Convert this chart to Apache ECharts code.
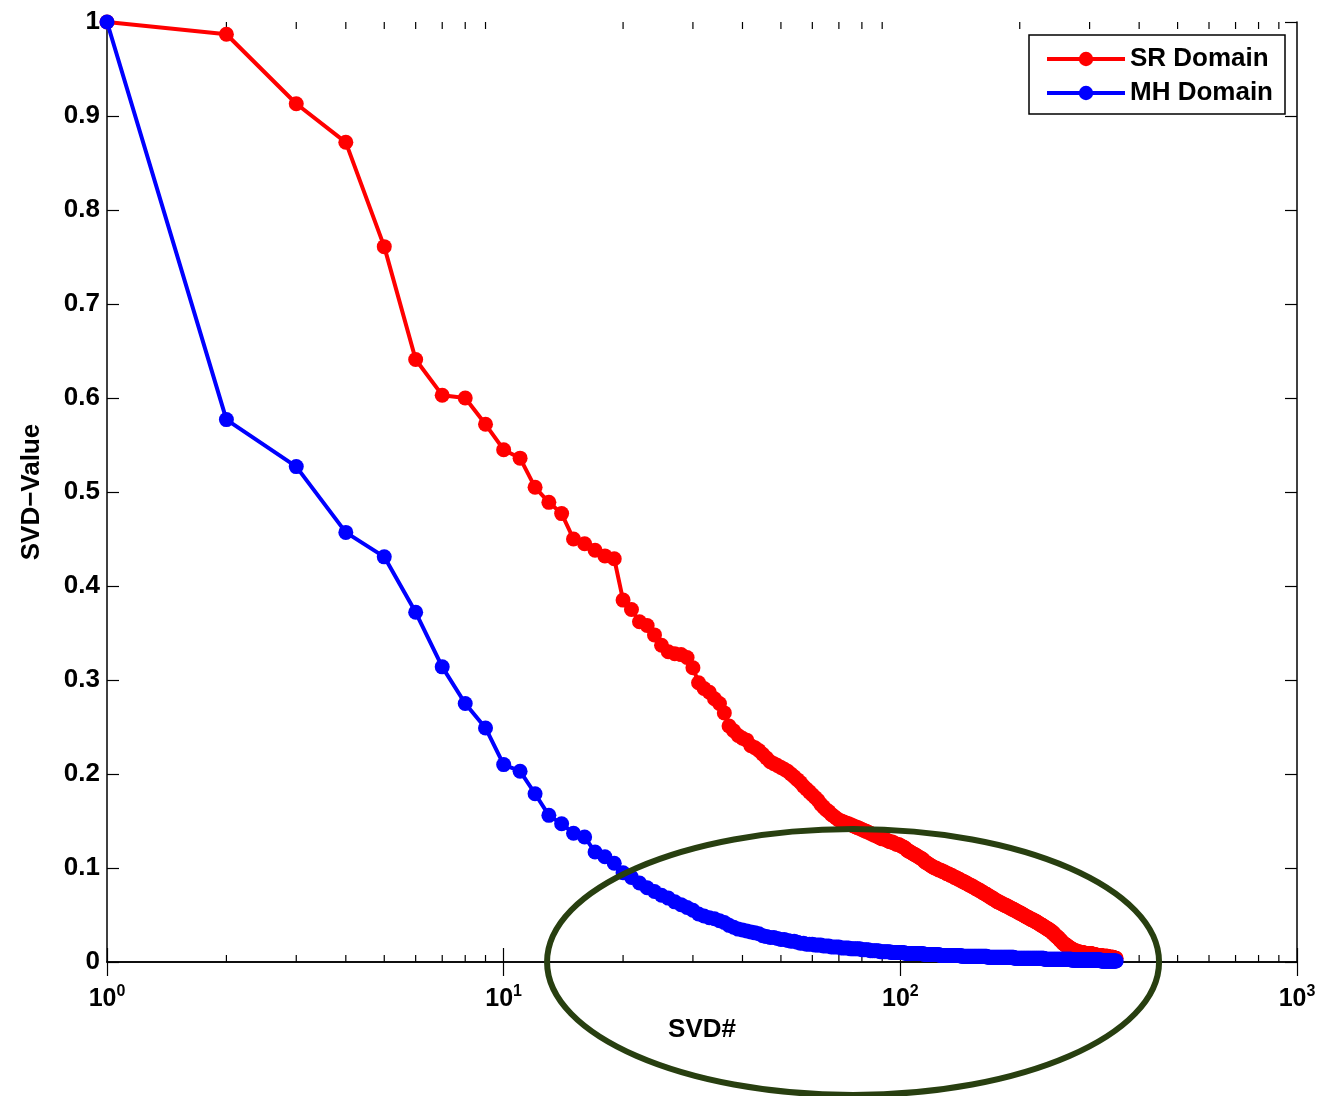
<!DOCTYPE html>
<html>
<head>
<meta charset="utf-8">
<script src="https://cdn.jsdelivr.net/npm/echarts@6/dist/echarts.min.js"></script>
<style>
  html, body { margin: 0; padding: 0; background: #ffffff; }
  #chart { width: 1337px; height: 1096px; }
</style>
</head>
<body>
<div id="chart"></div>
<script>
// Normalised singular values, index 1..350 (SVD#), for the two domains.
const srDomain = [
  1.000,0.987,0.913,0.872,0.761,0.641,0.603,0.600,0.572,0.545,
  0.536,0.505,0.489,0.477,0.450,0.445,0.438,0.432,0.429,0.385,
  0.375,0.362,0.358,0.348,0.337,0.330,0.328,0.327,0.324,0.313,
  0.297,0.291,0.287,0.280,0.275,0.265,0.251,0.246,0.241,0.238,
  0.236,0.230,0.228,0.225,0.221,0.217,0.213,0.211,0.209,0.207,
  0.205,0.203,0.200,0.197,0.194,0.191,0.187,0.184,0.181,0.178,
  0.175,0.172,0.168,0.165,0.162,0.160,0.157,0.155,0.153,0.151,
  0.150,0.149,0.148,0.147,0.146,0.145,0.144,0.143,0.142,0.141,
  0.140,0.139,0.138,0.137,0.136,0.135,0.134,0.133,0.132,0.131,
  0.131,0.130,0.129,0.128,0.128,0.127,0.126,0.125,0.125,0.124,
  0.123,0.122,0.121,0.119,0.118,0.117,0.116,0.115,0.114,0.113,
  0.112,0.111,0.110,0.109,0.107,0.106,0.105,0.104,0.103,0.102,
  0.101,0.100,0.100,0.099,0.098,0.098,0.097,0.096,0.096,0.095,
  0.094,0.094,0.093,0.092,0.092,0.091,0.090,0.090,0.089,0.088,
  0.088,0.087,0.086,0.086,0.085,0.084,0.084,0.083,0.082,0.082,
  0.081,0.080,0.080,0.079,0.078,0.078,0.077,0.076,0.076,0.075,
  0.074,0.074,0.073,0.072,0.072,0.071,0.070,0.070,0.069,0.068,
  0.068,0.067,0.066,0.066,0.065,0.064,0.064,0.063,0.063,0.062,
  0.062,0.061,0.061,0.060,0.060,0.059,0.059,0.058,0.058,0.057,
  0.057,0.056,0.056,0.055,0.055,0.054,0.054,0.053,0.053,0.052,
  0.052,0.051,0.051,0.050,0.050,0.049,0.049,0.048,0.048,0.047,
  0.047,0.046,0.046,0.045,0.045,0.045,0.044,0.044,0.043,0.043,
  0.042,0.042,0.041,0.041,0.040,0.040,0.039,0.039,0.038,0.038,
  0.037,0.037,0.036,0.036,0.035,0.035,0.034,0.034,0.033,0.033,
  0.032,0.031,0.031,0.030,0.029,0.028,0.028,0.027,0.026,0.026,
  0.025,0.024,0.023,0.023,0.022,0.021,0.020,0.020,0.019,0.019,
  0.018,0.018,0.017,0.017,0.016,0.016,0.015,0.015,0.014,0.014,
  0.013,0.013,0.013,0.012,0.012,0.012,0.012,0.011,0.011,0.011,
  0.011,0.011,0.010,0.010,0.010,0.010,0.010,0.010,0.010,0.009,
  0.009,0.009,0.009,0.009,0.009,0.009,0.009,0.009,0.009,0.009,
  0.009,0.009,0.009,0.008,0.008,0.008,0.008,0.008,0.008,0.008,
  0.007,0.007,0.007,0.007,0.007,0.007,0.007,0.007,0.007,0.007,
  0.007,0.006,0.006,0.006,0.006,0.006,0.006,0.006,0.006,0.006,
  0.006,0.006,0.006,0.005,0.005,0.005,0.005,0.005,0.005,0.005,
  0.005,0.005,0.005,0.005,0.004,0.004,0.004,0.004,0.004,0.004
];

const mhDomain = [
  1.000,0.577,0.527,0.457,0.431,0.372,0.314,0.275,0.249,0.210,
  0.203,0.179,0.156,0.147,0.137,0.133,0.117,0.112,0.105,0.095,
  0.090,0.084,0.079,0.075,0.071,0.068,0.064,0.061,0.058,0.055,
  0.051,0.049,0.047,0.046,0.044,0.042,0.039,0.037,0.035,0.034,
  0.033,0.032,0.031,0.030,0.028,0.027,0.026,0.026,0.025,0.024,
  0.024,0.023,0.022,0.022,0.021,0.020,0.020,0.019,0.019,0.019,
  0.018,0.018,0.018,0.017,0.017,0.017,0.016,0.016,0.016,0.016,
  0.015,0.015,0.015,0.015,0.014,0.014,0.014,0.014,0.014,0.013,
  0.013,0.013,0.013,0.012,0.012,0.012,0.012,0.012,0.011,0.011,
  0.011,0.011,0.011,0.011,0.010,0.010,0.010,0.010,0.010,0.010,
  0.010,0.010,0.009,0.009,0.009,0.009,0.009,0.009,0.009,0.009,
  0.009,0.009,0.009,0.009,0.008,0.008,0.008,0.008,0.008,0.008,
  0.008,0.008,0.008,0.008,0.008,0.007,0.007,0.007,0.007,0.007,
  0.007,0.007,0.007,0.007,0.007,0.007,0.007,0.007,0.007,0.007,
  0.007,0.007,0.006,0.006,0.006,0.006,0.006,0.006,0.006,0.006,
  0.006,0.006,0.006,0.006,0.006,0.006,0.006,0.006,0.006,0.006,
  0.006,0.006,0.006,0.006,0.006,0.005,0.005,0.005,0.005,0.005,
  0.005,0.005,0.005,0.005,0.005,0.005,0.005,0.005,0.005,0.005,
  0.005,0.005,0.005,0.005,0.005,0.005,0.005,0.005,0.005,0.005,
  0.005,0.005,0.005,0.004,0.004,0.004,0.004,0.004,0.004,0.004,
  0.004,0.004,0.004,0.004,0.004,0.004,0.004,0.004,0.004,0.004,
  0.004,0.004,0.004,0.004,0.004,0.004,0.004,0.004,0.004,0.004,
  0.004,0.004,0.004,0.004,0.004,0.004,0.004,0.004,0.004,0.004,
  0.003,0.003,0.003,0.003,0.003,0.003,0.003,0.003,0.003,0.003,
  0.003,0.003,0.003,0.003,0.003,0.003,0.003,0.003,0.003,0.003,
  0.003,0.003,0.003,0.003,0.003,0.003,0.003,0.003,0.003,0.003,
  0.003,0.003,0.003,0.003,0.003,0.003,0.003,0.003,0.003,0.003,
  0.002,0.002,0.002,0.002,0.002,0.002,0.002,0.002,0.002,0.002,
  0.002,0.002,0.002,0.002,0.002,0.002,0.002,0.002,0.002,0.002,
  0.002,0.002,0.002,0.002,0.002,0.002,0.002,0.002,0.002,0.002,
  0.002,0.002,0.002,0.002,0.002,0.002,0.002,0.002,0.002,0.002,
  0.002,0.002,0.002,0.002,0.002,0.002,0.002,0.002,0.002,0.002,
  0.001,0.001,0.001,0.001,0.001,0.001,0.001,0.001,0.001,0.001,
  0.001,0.001,0.001,0.001,0.001,0.001,0.001,0.001,0.001,0.001,
  0.001,0.001,0.001,0.001,0.001,0.001,0.001,0.001,0.001,0.001
];

const seriesNames = ['SR Domain', 'MH Domain'];
const xTickExponents = [0, 1, 2, 3];
const xMinorTicks = [2,3,4,5,6,7,8,9, 20,30,40,50,60,70,80,90, 200,300,400,500,600,700,800,900];
const yTickValues = [0, 0.1, 0.2, 0.3, 0.4, 0.5, 0.6, 0.7, 0.8, 0.9, 1];

const FONT = '"Liberation Sans", Arial, Helvetica, sans-serif';

function toPoints(values) {
  return values.map((v, i) => [i + 1, v]);
}

const chart = echarts.init(document.getElementById('chart'), null, { renderer: 'canvas' });

const tickLabelStyle = { color: '#000', fontFamily: FONT, fontWeight: 'bold', fontSize: 26 };

const option = {
  animation: false,
  backgroundColor: '#ffffff',
  grid: { left: 107, right: 40, top: 22, bottom: 134, containLabel: false },
  legend: {
    orient: 'vertical',
    right: 52,
    top: 35,
    data: seriesNames,
    backgroundColor: '#ffffff',
    borderColor: '#000000',
    borderWidth: 1.5,
    borderRadius: 0,
    padding: [11, 12, 8, 16],
    itemWidth: 78,
    itemHeight: 18,
    itemGap: 8,
    lineStyle: { width: 4 },
    textStyle: { color: '#000', fontFamily: FONT, fontWeight: 'bold', fontSize: 26 }
  },
  xAxis: [
    {
      type: 'log',
      logBase: 10,
      min: 1,
      max: 1000,
      name: 'SVD#',
      nameLocation: 'middle',
      nameGap: 50,
      nameTextStyle: { color: '#000', fontFamily: FONT, fontWeight: 'bold', fontSize: 26 },
      axisLine: { lineStyle: { color: '#000', width: 1.5 } },
      axisTick: { inside: true, length: 14, lineStyle: { color: '#000', width: 1.2 } },
      splitLine: { show: false },
      minorTick: { show: false },
      axisLabel: {
        margin: 22,
        formatter: function (v) {
          const e = Math.round(Math.log10(v));
          if (xTickExponents.indexOf(e) < 0) return '';
          return '{b|10}{s|' + e + '}';
        },
        rich: {
          b: { color: '#000', fontFamily: FONT, fontWeight: 'bold', fontSize: 25 },
          s: { color: '#000', fontFamily: FONT, fontWeight: 'bold', fontSize: 16, verticalAlign: 'top', padding: [0, 0, 14, 0] }
        }
      }
    },
    {
      type: 'log',
      logBase: 10,
      min: 1,
      max: 1000,
      position: 'top',
      axisLine: { lineStyle: { color: '#000', width: 1.5 } },
      axisTick: { inside: true, length: 14, lineStyle: { color: '#000', width: 1.2 } },
      axisLabel: { show: false },
      splitLine: { show: false }
    }
  ],
  yAxis: [
    {
      type: 'value',
      min: 0,
      max: 1,
      interval: 0.1,
      name: 'SVD\u2212Value',
      nameLocation: 'middle',
      nameGap: 62,
      nameRotate: 90,
      nameTextStyle: { color: '#000', fontFamily: FONT, fontWeight: 'bold', fontSize: 26 },
      axisLine: { show: true, lineStyle: { color: '#000', width: 1.5 } },
      axisTick: { show: true, inside: true, length: 12, lineStyle: { color: '#000', width: 1.2 } },
      splitLine: { show: false },
      axisLabel: Object.assign({
        margin: 7,
        formatter: function (v) {
          const t = yTickValues.find(k => Math.abs(k - v) < 1e-9);
          return t === undefined ? '' : String(+t.toFixed(1));
        }
      }, tickLabelStyle)
    },
    {
      type: 'value',
      min: 0,
      max: 1,
      interval: 0.1,
      position: 'right',
      axisLine: { show: true, lineStyle: { color: '#000', width: 1.5 } },
      axisTick: { show: true, inside: true, length: 12, lineStyle: { color: '#000', width: 1.2 } },
      axisLabel: { show: false },
      splitLine: { show: false }
    }
  ],
  series: [
    {
      name: seriesNames[0],
      type: 'line',
      xAxisIndex: 0,
      yAxisIndex: 0,
      data: toPoints(srDomain),
      symbol: 'circle',
      symbolSize: 15,
      showAllSymbol: true,
      itemStyle: { color: '#ff0000' },
      lineStyle: { color: '#ff0000', width: 4 },
      z: 3
    },
    {
      name: seriesNames[1],
      type: 'line',
      xAxisIndex: 0,
      yAxisIndex: 0,
      data: toPoints(mhDomain),
      symbol: 'circle',
      symbolSize: 15,
      showAllSymbol: true,
      itemStyle: { color: '#0000ff' },
      lineStyle: { color: '#0000ff', width: 4 },
      z: 4
    },
    {
      // minor ticks of the log axis, on the bottom and top frame lines
      type: 'custom',
      xAxisIndex: 0,
      yAxisIndex: 0,
      silent: true,
      data: xMinorTicks.map(v => [v]),
      renderItem: function (params, api) {
        const x = api.coord([api.value(0), 0])[0];
        const cs = params.coordSys;
        const len = 7;
        const style = { stroke: '#000', lineWidth: 1.2 };
        return {
          type: 'group',
          children: [
            { type: 'line', shape: { x1: x, y1: cs.y + cs.height, x2: x, y2: cs.y + cs.height - len }, style: style },
            { type: 'line', shape: { x1: x, y1: cs.y, x2: x, y2: cs.y + len }, style: style }
          ]
        };
      },
      z: 2
    }
  ]
};

chart.setOption(option);

// Highlight ellipse around the tail of both curves
const centre = chart.convertToPixel({ xAxisIndex: 0, yAxisIndex: 0 }, [76, 0]);
chart.setOption({
  graphic: [{
    type: 'ellipse',
    shape: { cx: centre[0], cy: centre[1], rx: 306, ry: 133 },
    style: { fill: null, stroke: '#283f10', lineWidth: 6 },
    silent: true,
    z: 100
  }]
});
</script>
</body>
</html>
